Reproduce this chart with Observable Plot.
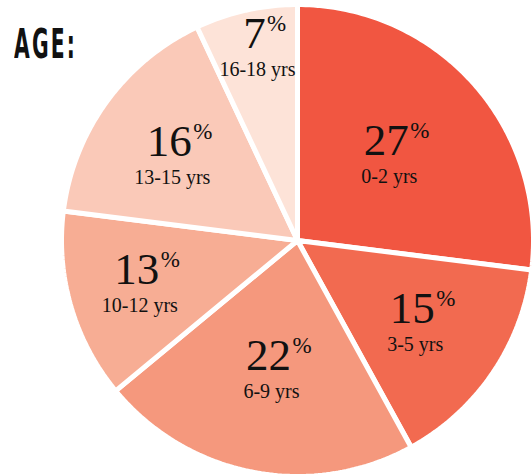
<!DOCTYPE html>
<html>
<head>
<meta charset="utf-8">
<script src="https://cdn.jsdelivr.net/npm/d3@7"></script>
<script src="https://cdn.jsdelivr.net/npm/@observablehq/plot@0.6"></script>
<style>
  html, body { margin: 0; padding: 0; background: #fff; }
  #wrap { position: relative; width: 532px; height: 475px; }
  #title {
    position: absolute; left: 14px; top: 24px;
    font-family: "DejaVu Sans Condensed", "DejaVu Sans", sans-serif;
    font-weight: bold; font-size: 41px; letter-spacing: 4px;
    transform: scaleX(0.55); transform-origin: left top;
    color: #111; line-height: 1;
  }
</style>
</head>
<body>
<div id="wrap"><div id="title">AGE:</div><div id="chart"></div></div>
<script>
// Data
const ages = ["0-2 yrs", "3-5 yrs", "6-9 yrs", "10-12 yrs", "13-15 yrs", "16-18 yrs"];
const shares = [27, 15, 22, 13, 16, 7];
const colors = ["#f15641", "#f26a50", "#f5987d", "#f7ad94", "#fac9b8", "#fde3d8"];

// Layout (pixels / degrees)
const R = 236;
const labelPolar = [[116, 52.3], [153, 129.7], [147, 190.2], [168, 249.8], [143, 298.9], [182, 347.3]];

const total = d3.sum(shares);
const rad = Math.PI / 180;
const polys = [];
const labels = [];
let start = 0;
ages.forEach((age, i) => {
  const sweep = shares[i] / total * 360;
  const end = start + sweep;
  polys.push({age, x: 0, y: 0});
  const n = Math.max(2, Math.ceil(sweep));
  for (let k = 0; k <= n; k++) {
    const a = (start + sweep * k / n) * rad;
    polys.push({age, x: R * Math.sin(a), y: R * Math.cos(a)});
  }
  polys.push({age, x: 0, y: 0});
  const [r, ang] = labelPolar[i];
  const gx = r * Math.sin(ang * rad), gy = r * Math.cos(ang * rad);
  const digits = String(shares[i]).length;
  labels.push({
    age, value: String(shares[i]),
    lx: gx, ly: gy - 13,
    nx: gx - 3, ny: gy + 15,
    px: gx - 3 + digits * 23 / 2 + 1, py: gy + 32
  });
  start = end;
});

const chart = Plot.plot({
  width: 532, height: 475,
  margin: 0,
  x: {domain: [-297, 235], axis: null},
  y: {domain: [-235, 240], axis: null},
  color: {domain: ages, range: colors},
  style: {background: "transparent"},
  marks: [
    Plot.line(polys, {x: "x", y: "y", z: "age", fill: "age", stroke: "white", strokeWidth: 5, strokeLinejoin: "miter"}),
    Plot.text(labels, {x: "nx", y: "ny", text: "value", textAnchor: "middle", lineAnchor: "bottom",
      fontFamily: "Liberation Serif", fontSize: 45, fill: "#111"}),
    Plot.text(labels, {x: "px", y: "py", text: () => "%", textAnchor: "start", lineAnchor: "bottom",
      fontFamily: "Liberation Serif", fontSize: 23, fill: "#111"}),
    Plot.text(labels, {x: "lx", y: "ly", text: "age", textAnchor: "middle", lineAnchor: "bottom",
      fontFamily: "Liberation Serif", fontSize: 20, fill: "#111"})
  ]
});
document.getElementById("chart").appendChild(chart);
</script>
</body>
</html>
